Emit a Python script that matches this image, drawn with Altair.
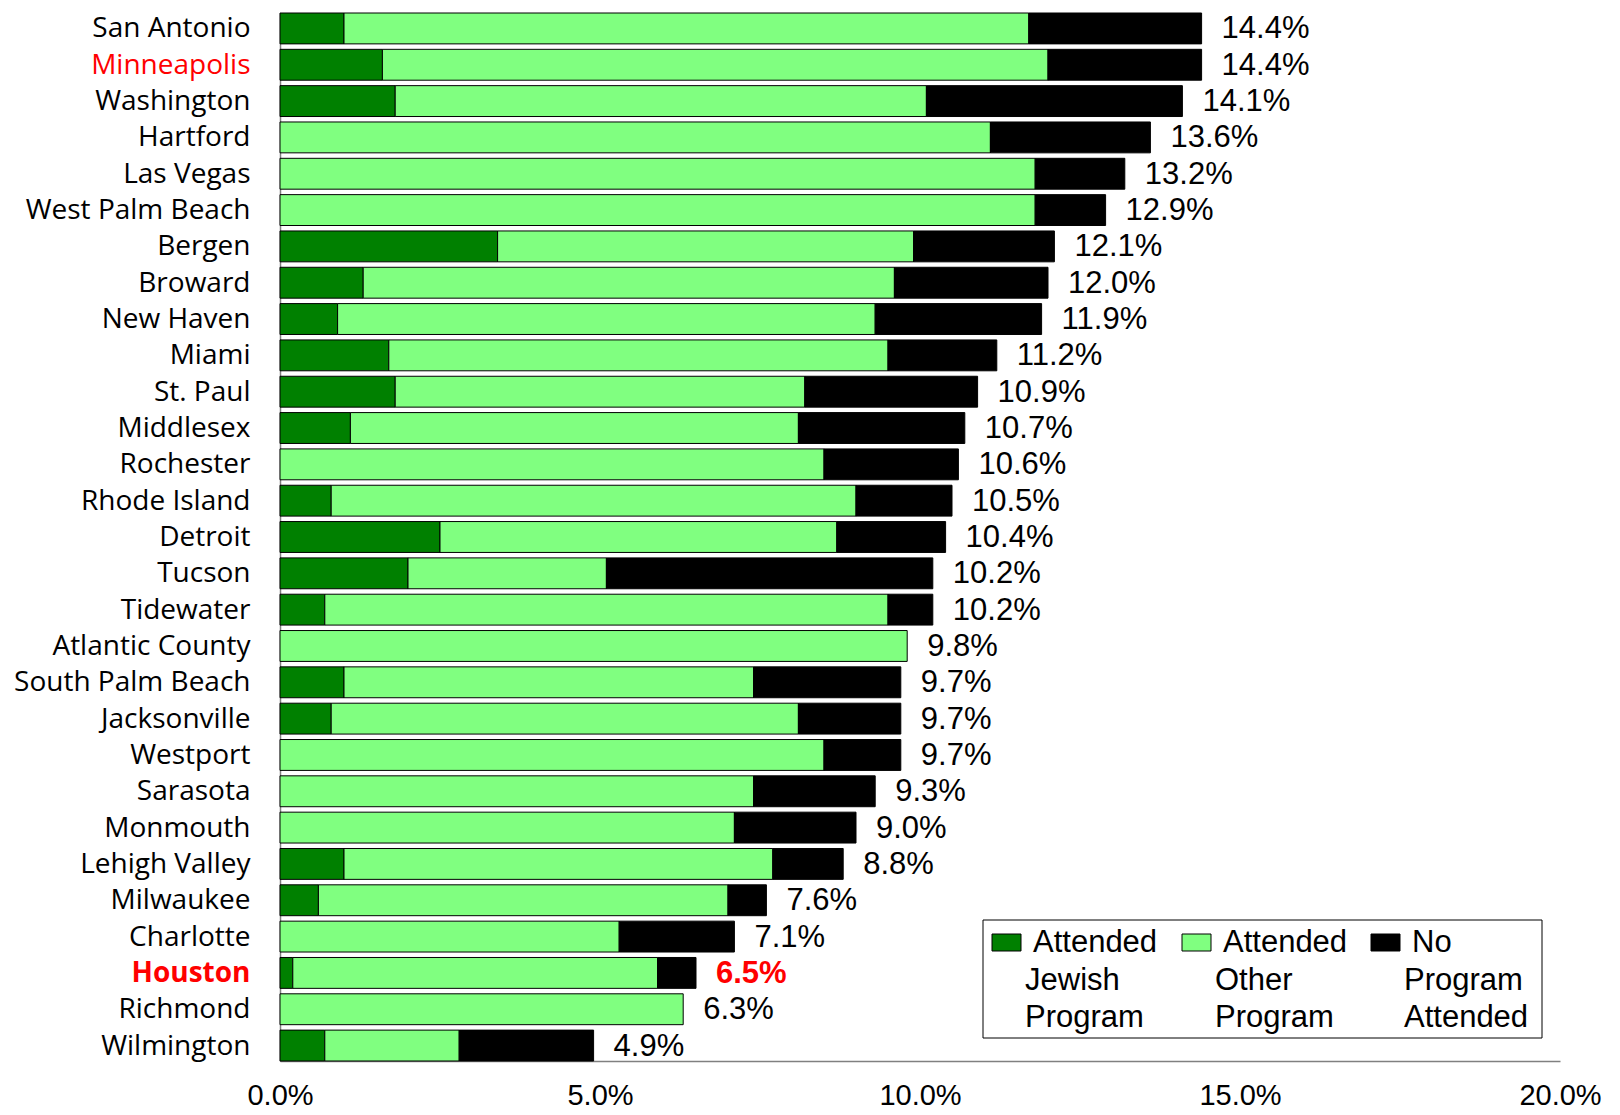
import altair as alt
import pandas as pd

cities = ["San Antonio", "Minneapolis", "Washington", "Hartford", "Las Vegas",
          "West Palm Beach", "Bergen", "Broward", "New Haven", "Miami", "St. Paul",
          "Middlesex", "Rochester", "Rhode Island", "Detroit", "Tucson", "Tidewater",
          "Atlantic County", "South Palm Beach", "Jacksonville", "Westport", "Sarasota",
          "Monmouth", "Lehigh Valley", "Milwaukee", "Charlotte", "Houston", "Richmond",
          "Wilmington"]
jewish = [1.0, 1.6, 1.8, 0, 0, 0, 3.4, 1.3, 0.9, 1.7, 1.8, 1.1, 0, 0.8, 2.5, 2.0, 0.7,
          0, 1.0, 0.8, 0, 0, 0, 1.0, 0.6, 0, 0.2, 0, 0.7]
other = [10.7, 10.4, 8.3, 11.1, 11.8, 11.8, 6.5, 8.3, 8.4, 7.8, 6.4, 7.0, 8.5, 8.2, 6.2,
         3.1, 8.8, 9.8, 6.4, 7.3, 8.5, 7.4, 7.1, 6.7, 6.4, 5.3, 5.7, 6.3, 2.1]
none_ = [2.7, 2.4, 4.0, 2.5, 1.4, 1.1, 2.2, 2.4, 2.6, 1.7, 2.7, 2.6, 2.1, 1.5, 1.7, 5.1,
         0.7, 0, 2.3, 1.6, 1.2, 1.9, 1.9, 1.1, 0.6, 1.8, 0.6, 0, 2.1]
totals = [14.4, 14.4, 14.1, 13.6, 13.2, 12.9, 12.1, 12.0, 11.9, 11.2, 10.9, 10.7, 10.6,
          10.5, 10.4, 10.2, 10.2, 9.8, 9.7, 9.7, 9.7, 9.3, 9.0, 8.8, 7.6, 7.1, 6.5, 6.3, 4.9]
total_labels = [f"{t:.1f}%" for t in totals]
x_ticks = [0, 5, 10, 15, 20]

series = ["Attended Jewish Program", "Attended Other Program", "No Program Attended"]
colors = ["#008000", "#80FF80", "#000000"]
legend_lines = [["Attended", "Jewish", "Program"],
                ["Attended", "Other", "Program"],
                ["No", "Program", "Attended"]]

rows = []
for c, j, o, n in zip(cities, jewish, other, none_):
    for k, (s, v) in enumerate(zip(series, [j, o, n])):
        if v > 0:
            rows.append({"city": c, "series": s, "k": k, "value": v})
df = pd.DataFrame(rows)
tot = pd.DataFrame({"city": cities, "total": totals, "label": total_labels})

TOP = 5
W, H = 1280, 1053 - TOP

yaxis = alt.Axis(title=None, ticks=False, labelPadding=30, labelFontSize=28,
                 labelFont="Open Sans", labelLimit=500, labelOffset=1,
                 domainColor="#808080", domainWidth=1.5,
                 labelColor={"condition": {"test": "datum.value == 'Minneapolis' || datum.value == 'Houston'", "value": "red"}, "value": "black"},
                 labelFontWeight={"condition": {"test": "datum.value == 'Houston'", "value": "bold"}, "value": "normal"})
yscale = alt.Scale(paddingInner=0.15, paddingOuter=0.0)
xaxis = alt.Axis(title=None, values=x_ticks,
                 labelExpr="format(datum.value, '.1f') + '%'",
                 ticks=False, grid=False, labelPadding=20, labelFontSize=29,
                 labelFont="Liberation Sans", labelColor="black",
                 labelFlush=False, labelOverlap=False,
                 domainColor="#808080", domainWidth=1.5)
xscale = alt.Scale(domain=[0, 20], nice=False)

bars = alt.Chart(df).mark_bar(stroke="black", strokeWidth=1).encode(
    x=alt.X("value:Q", stack="zero", scale=xscale, axis=xaxis),
    y=alt.Y("city:N", sort=cities, scale=yscale, axis=yaxis),
    color=alt.Color("series:N", scale=alt.Scale(domain=series, range=colors), legend=None),
    order=alt.Order("k:Q"),
)

labels = alt.Chart(tot).transform_filter("datum.city != 'Houston'").mark_text(
    align="left", baseline="middle", dx=20, dy=1,
    fontSize=31, font="Liberation Sans", color="black").encode(
    x=alt.X("total:Q", scale=xscale, axis=xaxis),
    y=alt.Y("city:N", sort=cities, scale=yscale, axis=yaxis),
    text="label:N",
)
labels_hl = alt.Chart(tot).transform_filter("datum.city == 'Houston'").mark_text(
    align="left", baseline="middle", dx=20, dy=1,
    fontSize=31, font="Liberation Sans", color="red", fontWeight="bold").encode(
    x=alt.X("total:Q", scale=xscale, axis=xaxis),
    y=alt.Y("city:N", sort=cities, scale=yscale, axis=yaxis),
    text="label:N",
)

one = pd.DataFrame({"a": [0]})
oy = -TOP
legend_layers = [
    alt.Chart(one).mark_rect(fill="white", stroke="black", strokeWidth=1).encode(
        x=alt.value(703), x2=alt.value(1262), y=alt.value(912 + oy), y2=alt.value(1030 + oy))
]
sw_x = [712, 902, 1091]
for i in range(3):
    legend_layers.append(
        alt.Chart(one).mark_rect(fill=colors[i], stroke="black", strokeWidth=1).encode(
            x=alt.value(sw_x[i]), x2=alt.value(sw_x[i] + 29),
            y=alt.value(926 + oy), y2=alt.value(943 + oy)))
    for li, line in enumerate(legend_lines[i]):
        xx = sw_x[i] + (41 if li == 0 else 33)
        yy = [935, 972.5, 1010][li] + oy
        legend_layers.append(
            alt.Chart(one).mark_text(text=line, align="left", baseline="middle",
                                     fontSize=31, font="Liberation Sans", color="black").encode(
                x=alt.value(xx), y=alt.value(yy)))

chart = alt.layer(bars, labels, labels_hl, *legend_layers).properties(
    width=W, height=H,
    background="white",
    autosize=alt.AutoSizeParams(type="none"),
    padding={"left": 272, "top": TOP, "right": 50, "bottom": 53},
).configure_view(stroke=None)

chart.save("out.html", embed_options={"renderer": "svg", "actions": False})
